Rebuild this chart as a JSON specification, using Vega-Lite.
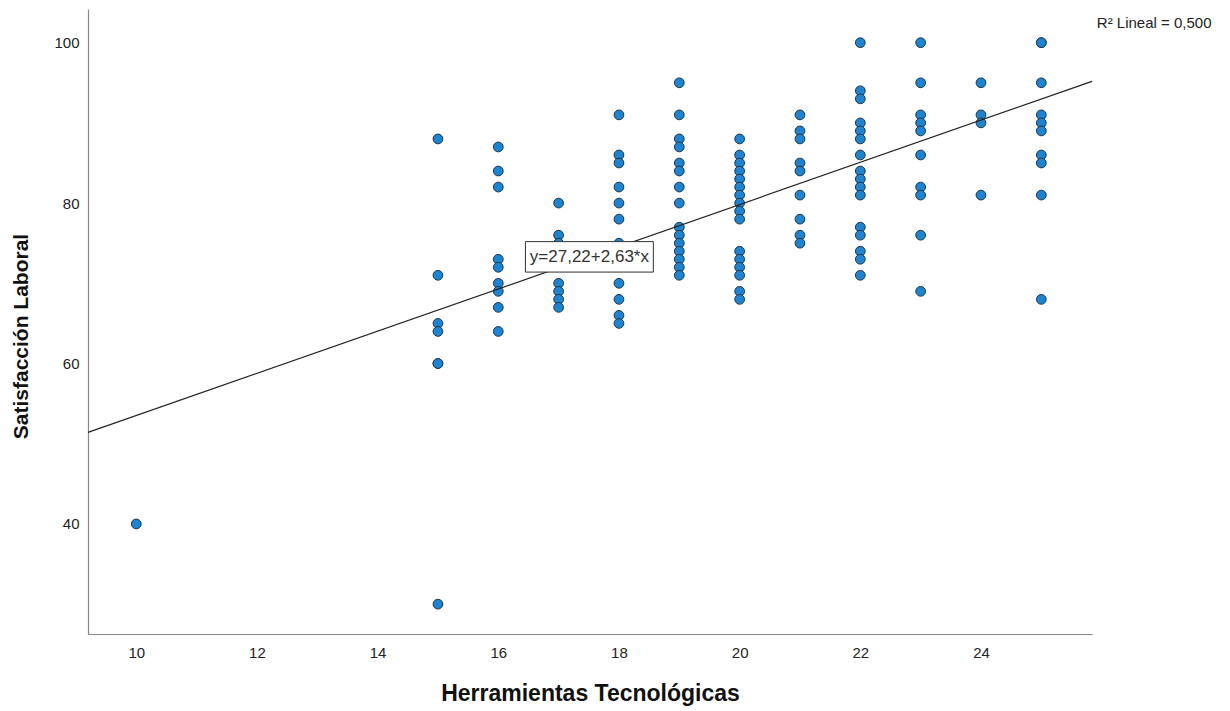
{
  "$schema": "https://vega.github.io/schema/vega-lite/v6.json",
  "width": 1004,
  "height": 625,
  "autosize": {"type": "none"},
  "padding": {"left": 88, "top": 9, "right": 138, "bottom": 77},
  "background": "white",
  "config": {
    "view": {"stroke": null},
    "font": "Liberation Sans",
    "axis": {
      "grid": false,
      "ticks": false,
      "domainColor": "#888888",
      "domainWidth": 1.2,
      "labelFont": "Liberation Sans",
      "labelFontSize": 15,
      "labelColor": "#222222",
      "titleFont": "Liberation Sans",
      "titleFontWeight": "bold",
      "titleColor": "#111111"
    }
  },
  "datasets": {
    "points": [
      {"tec": 10, "sat": 40},
      {"tec": 15, "sat": 88}, {"tec": 15, "sat": 71}, {"tec": 15, "sat": 65}, {"tec": 15, "sat": 64}, {"tec": 15, "sat": 60}, {"tec": 15, "sat": 60}, {"tec": 15, "sat": 30},
      {"tec": 16, "sat": 87}, {"tec": 16, "sat": 84}, {"tec": 16, "sat": 82}, {"tec": 16, "sat": 73}, {"tec": 16, "sat": 72}, {"tec": 16, "sat": 70}, {"tec": 16, "sat": 69}, {"tec": 16, "sat": 67}, {"tec": 16, "sat": 64},
      {"tec": 17, "sat": 80}, {"tec": 17, "sat": 76}, {"tec": 17, "sat": 75}, {"tec": 17, "sat": 70}, {"tec": 17, "sat": 69}, {"tec": 17, "sat": 68}, {"tec": 17, "sat": 67},
      {"tec": 18, "sat": 91}, {"tec": 18, "sat": 86}, {"tec": 18, "sat": 85}, {"tec": 18, "sat": 82}, {"tec": 18, "sat": 80}, {"tec": 18, "sat": 78}, {"tec": 18, "sat": 75}, {"tec": 18, "sat": 73}, {"tec": 18, "sat": 70}, {"tec": 18, "sat": 68}, {"tec": 18, "sat": 66}, {"tec": 18, "sat": 65},
      {"tec": 19, "sat": 95}, {"tec": 19, "sat": 91}, {"tec": 19, "sat": 88}, {"tec": 19, "sat": 87}, {"tec": 19, "sat": 85}, {"tec": 19, "sat": 84}, {"tec": 19, "sat": 82}, {"tec": 19, "sat": 80}, {"tec": 19, "sat": 77}, {"tec": 19, "sat": 76}, {"tec": 19, "sat": 75}, {"tec": 19, "sat": 74}, {"tec": 19, "sat": 73}, {"tec": 19, "sat": 72}, {"tec": 19, "sat": 71},
      {"tec": 20, "sat": 88}, {"tec": 20, "sat": 86}, {"tec": 20, "sat": 85}, {"tec": 20, "sat": 84}, {"tec": 20, "sat": 83}, {"tec": 20, "sat": 82}, {"tec": 20, "sat": 81}, {"tec": 20, "sat": 80}, {"tec": 20, "sat": 79}, {"tec": 20, "sat": 78}, {"tec": 20, "sat": 74}, {"tec": 20, "sat": 73}, {"tec": 20, "sat": 72}, {"tec": 20, "sat": 71}, {"tec": 20, "sat": 69}, {"tec": 20, "sat": 68},
      {"tec": 21, "sat": 91}, {"tec": 21, "sat": 89}, {"tec": 21, "sat": 88}, {"tec": 21, "sat": 85}, {"tec": 21, "sat": 84}, {"tec": 21, "sat": 81}, {"tec": 21, "sat": 78}, {"tec": 21, "sat": 76}, {"tec": 21, "sat": 75},
      {"tec": 22, "sat": 100}, {"tec": 22, "sat": 94}, {"tec": 22, "sat": 93}, {"tec": 22, "sat": 90}, {"tec": 22, "sat": 89}, {"tec": 22, "sat": 88}, {"tec": 22, "sat": 86}, {"tec": 22, "sat": 84}, {"tec": 22, "sat": 83}, {"tec": 22, "sat": 82}, {"tec": 22, "sat": 81}, {"tec": 22, "sat": 77}, {"tec": 22, "sat": 76}, {"tec": 22, "sat": 74}, {"tec": 22, "sat": 73}, {"tec": 22, "sat": 71},
      {"tec": 23, "sat": 100}, {"tec": 23, "sat": 95}, {"tec": 23, "sat": 91}, {"tec": 23, "sat": 90}, {"tec": 23, "sat": 89}, {"tec": 23, "sat": 86}, {"tec": 23, "sat": 82}, {"tec": 23, "sat": 81}, {"tec": 23, "sat": 76}, {"tec": 23, "sat": 69},
      {"tec": 24, "sat": 95}, {"tec": 24, "sat": 91}, {"tec": 24, "sat": 90}, {"tec": 24, "sat": 81},
      {"tec": 25, "sat": 100}, {"tec": 25, "sat": 100}, {"tec": 25, "sat": 95}, {"tec": 25, "sat": 91}, {"tec": 25, "sat": 90}, {"tec": 25, "sat": 89}, {"tec": 25, "sat": 86}, {"tec": 25, "sat": 85}, {"tec": 25, "sat": 81}, {"tec": 25, "sat": 68}
    ],
    "fit": [
      {"tec": 9.2, "sat": 51.42},
      {"tec": 25.84, "sat": 95.18}
    ],
    "eqlabel": [
      {"x0": 16.45, "x1": 18.57, "y0": 71.4, "y1": 75.2, "xc": 17.51, "yc": 73.3, "text": "y=27,22+2,63*x"}
    ],
    "r2label": [
      {"xc": 26.87, "yc": 102.4, "text": "R² Lineal = 0,500"}
    ]
  },
  "layer": [
    {
      "data": {"name": "points"},
      "mark": {"type": "point", "filled": true, "shape": "circle", "size": 95, "fill": "#1f84cf", "stroke": "#1a3550", "strokeWidth": 1, "opacity": 1},
      "encoding": {
        "x": {
          "field": "tec", "type": "quantitative",
          "scale": {"domain": [9.2, 25.84], "nice": false, "zero": false},
          "axis": {"values": [10, 12, 14, 16, 18, 20, 22, 24], "format": "d", "title": "Herramientas Tecnológicas", "titleFontSize": 23, "labelPadding": 11, "titleX": 502, "titleY": 59, "titleAnchor": "middle", "titleAlign": "center", "titleBaseline": "middle"}
        },
        "y": {
          "field": "sat", "type": "quantitative",
          "scale": {"domain": [26.28, 104.2], "nice": false, "zero": false},
          "axis": {"values": [40, 60, 80, 100], "format": "d", "title": "Satisfacción Laboral", "titleFontSize": 21, "labelPadding": 9, "titleX": -67, "titleY": 327, "titleAngle": -90, "titleAlign": "center", "titleBaseline": "middle"}
        }
      }
    },
    {
      "data": {"name": "fit"},
      "mark": {"type": "line", "color": "#222222", "strokeWidth": 1.2},
      "encoding": {
        "x": {"field": "tec", "type": "quantitative"},
        "y": {"field": "sat", "type": "quantitative"}
      }
    },
    {
      "data": {"name": "eqlabel"},
      "mark": {"type": "rect", "fill": "white", "stroke": "#333333", "strokeWidth": 1},
      "encoding": {
        "x": {"field": "x0", "type": "quantitative"},
        "x2": {"field": "x1"},
        "y": {"field": "y0", "type": "quantitative"},
        "y2": {"field": "y1"}
      }
    },
    {
      "data": {"name": "eqlabel"},
      "mark": {"type": "text", "fontSize": 17, "color": "#333333", "font": "Liberation Sans", "align": "center", "baseline": "middle"},
      "encoding": {
        "x": {"field": "xc", "type": "quantitative"},
        "y": {"field": "yc", "type": "quantitative"},
        "text": {"field": "text"}
      }
    },
    {
      "data": {"name": "r2label"},
      "mark": {"type": "text", "fontSize": 15, "color": "#222222", "font": "Liberation Sans", "align": "center", "baseline": "middle"},
      "encoding": {
        "x": {"field": "xc", "type": "quantitative"},
        "y": {"field": "yc", "type": "quantitative"},
        "text": {"field": "text"}
      }
    }
  ]
}
